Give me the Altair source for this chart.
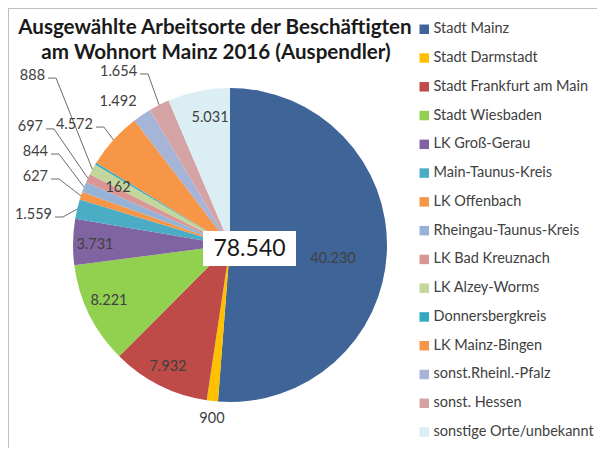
import math
import altair as alt
import pandas as pd

# ---------------- data ----------------
CATEGORIES = [
    "Stadt Mainz", "Stadt Darmstadt", "Stadt Frankfurt am Main", "Stadt Wiesbaden",
    "LK Groß-Gerau", "Main-Taunus-Kreis", "LK Offenbach", "Rheingau-Taunus-Kreis",
    "LK Bad Kreuznach", "LK Alzey-Worms", "Donnersbergkreis", "LK Mainz-Bingen",
    "sonst.Rheinl.-Pfalz", "sonst. Hessen", "sonstige Orte/unbekannt",
]
VALUES = [40230, 900, 7932, 8221, 3731, 1559, 627, 844, 697, 888, 162, 4572, 1492, 1654, 5031]
COLORS = [
    "#3F6598", "#FFC000", "#BE4B48", "#92D050", "#8064A2", "#4BACC6", "#F79646",
    "#95B3D7", "#D99694", "#C3D69B", "#31A9C2", "#F79646", "#A5B4D7", "#D6A3A5", "#DAEEF3",
]
TITLE_LINES = ["Ausgewählte Arbeitsorte der Beschäftigten", "am Wohnort Mainz 2016 (Auspendler)"]

# label layout (in pie-radius units relative to pie centre, y up); annotation placement only
LABEL_LAYOUT = {
    "Stadt Mainz": (0.656, -0.089, "center", False),
    "Stadt Darmstadt": (-0.115, -1.108, "center", False),
    "Stadt Frankfurt am Main": (-0.395, -0.777, "center", False),
    "Stadt Wiesbaden": (-0.771, -0.357, "center", False),
    "LK Groß-Gerau": (-0.860, 0.0, "center", False),
    "Main-Taunus-Kreis": (-1.134, 0.191, "right", True),
    "LK Offenbach": (-1.159, 0.433, "right", True),
    "Rheingau-Taunus-Kreis": (-1.159, 0.592, "right", True),
    "LK Bad Kreuznach": (-1.191, 0.752, "right", True),
    "LK Alzey-Worms": (-1.178, 1.076, "right", True),
    "Donnersbergkreis": (-0.713, 0.363, "center", False),
    "LK Mainz-Bingen": (-0.873, 0.764, "right", True),
    "sonst.Rheinl.-Pfalz": (-0.713, 0.911, "center", False),
    "sonst. Hessen": (-0.592, 1.102, "right", True),
    "sonstige Orte/unbekannt": (-0.127, 0.809, "center", False),
}

# ---------------- layout ----------------
W, H = 589, 440
CX, CY, R = 222, 237, 157
FONT = "Lato"


def de(v):
    return f"{v:,}".replace(",", ".")


TOTAL = sum(VALUES)

df = pd.DataFrame({"cat": CATEGORIES, "value": VALUES, "idx": list(range(len(VALUES)))})

# label table
total = float(TOTAL)
cum = 0.0
lab_rows, line_rows = [], []
for i, (c, v) in enumerate(zip(CATEGORIES, VALUES)):
    mid = (cum + v / 2.0) / total * 2 * math.pi
    cum += v
    lx, ly, align, leader = LABEL_LAYOUT[c]
    lab_rows.append({"cat": c, "lx": lx, "ly": ly, "align": align, "text": de(v)})
    if leader:
        gap = 3.0 / R
        dy = 2.0 / R
        sx, sy = lx + gap, ly - dy
        ex, ey = sx + 8.0 / R, sy
        line_rows += [
            {"cat": c, "seq": 0, "lx": sx, "ly": sy},
            {"cat": c, "seq": 1, "lx": ex, "ly": ey},
            {"cat": c, "seq": 2, "lx": math.sin(mid), "ly": math.cos(mid)},
        ]
lab_df = pd.DataFrame(lab_rows)
line_df = pd.DataFrame(line_rows)

xs = alt.Scale(domain=[-1, 1], range=[CX - R, CX + R], nice=False, zero=False)
ys = alt.Scale(domain=[-1, 1], range=[CY + R, CY - R], nice=False, zero=False)

pie = alt.Chart(df).mark_arc(outerRadius=R).encode(
    theta=alt.Theta("value:Q", stack=True),
    order=alt.Order("idx:Q"),
    color=alt.Color(
        "cat:N",
        sort=CATEGORIES,
        scale=alt.Scale(domain=CATEGORIES, range=COLORS),
        legend=alt.Legend(
            title=None, orient="none", legendX=409, legendY=14,
            symbolType="square", symbolSize=90, symbolStrokeWidth=0,
            labelFont=FONT, labelFontSize=14.5, labelColor="#404040",
            labelOffset=2, labelLimit=400, rowPadding=13.77,
        ),
    ),
    x=alt.value(CX),
    y=alt.value(CY),
)

leaders = alt.Chart(line_df).mark_line(color="#6b6b6b", strokeWidth=1).encode(
    x=alt.X("lx:Q", scale=xs, axis=None),
    y=alt.Y("ly:Q", scale=ys, axis=None),
    detail="cat:N",
    order="seq:Q",
)

lab_center = alt.Chart(lab_df).transform_filter(alt.datum.align == "center").mark_text(
    font=FONT, fontSize=14.5, color="#404040", align="center", baseline="middle"
).encode(
    x=alt.X("lx:Q", scale=xs, axis=None),
    y=alt.Y("ly:Q", scale=ys, axis=None),
    text="text:N",
)
lab_right = alt.Chart(lab_df).transform_filter(alt.datum.align == "right").mark_text(
    font=FONT, fontSize=14.5, color="#404040", align="right", baseline="middle"
).encode(
    x=alt.X("lx:Q", scale=xs, axis=None),
    y=alt.Y("ly:Q", scale=ys, axis=None),
    text="text:N",
)

one = pd.DataFrame({"a": [0]})
box = alt.Chart(one).mark_rect(color="white").encode(
    x=alt.value(195), x2=alt.value(288), y=alt.value(223), y2=alt.value(258)
)
total_txt = alt.Chart(one).mark_text(
    font=FONT, fontSize=23, color="#1a1a1a", align="center", baseline="middle"
).encode(x=alt.value(241.5), y=alt.value(241), text=alt.value(de(TOTAL)))

t1 = alt.Chart(one).mark_text(
    font=FONT, fontSize=20.6, fontWeight="bold", color="#1a1a1a", align="center", baseline="alphabetic"
).encode(x=alt.value(207), y=alt.value(26), text=alt.value(TITLE_LINES[0]))
t2 = alt.Chart(one).mark_text(
    font=FONT, fontSize=20.6, fontWeight="bold", color="#1a1a1a", align="center", baseline="alphabetic"
).encode(x=alt.value(208), y=alt.value(51), text=alt.value(TITLE_LINES[1]))

frame_top = alt.Chart(one).mark_rule(color="#BFBFBF", strokeWidth=1).encode(
    x=alt.value(0), x2=alt.value(W), y=alt.value(0.5)
)
frame_left = alt.Chart(one).mark_rule(color="#BFBFBF", strokeWidth=1).encode(
    x=alt.value(0.5), y=alt.value(0), y2=alt.value(H)
)

chart = alt.layer(
    frame_top, frame_left, pie, leaders, lab_center, lab_right, box, total_txt, t1, t2
).properties(
    width=W, height=H, padding=0,
    autosize=alt.AutoSizeParams(type="none"),
    background="white",
).configure_view(stroke=None)

chart.save("out.html", embed_options={"renderer": "svg", "actions": False})
